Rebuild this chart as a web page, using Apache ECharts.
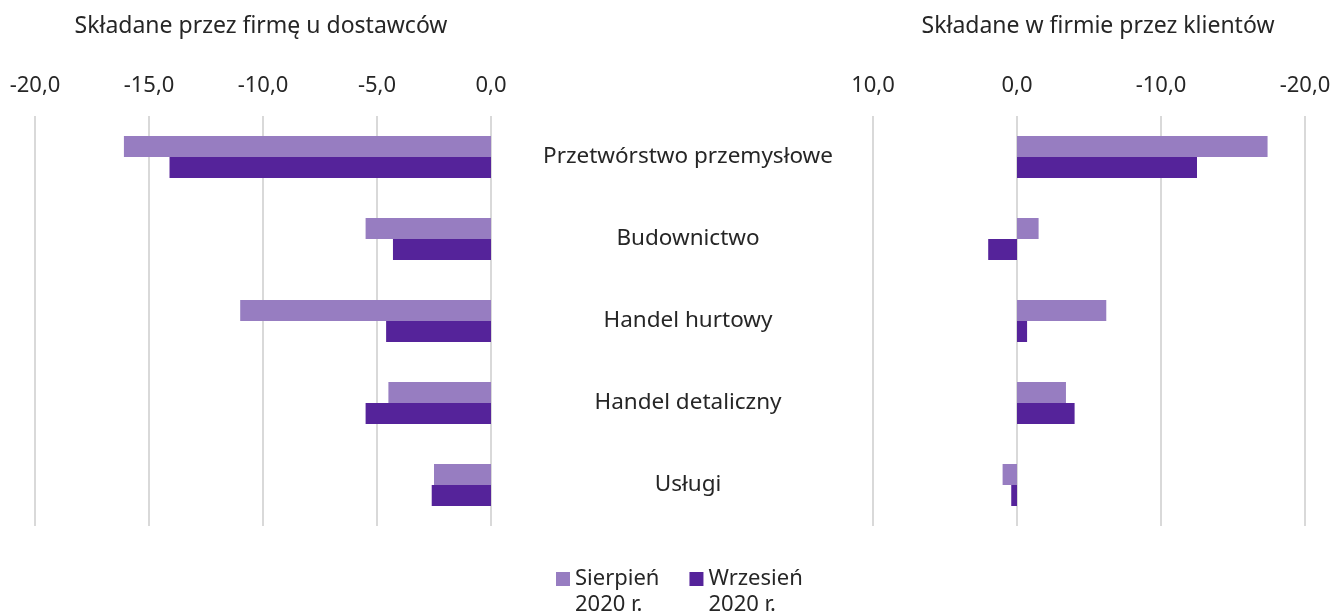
<!DOCTYPE html>
<html>
<head>
<meta charset="utf-8">
<style>
  html, body { margin: 0; padding: 0; background: #fff; }
  #chart { width: 1334px; height: 613px; }
</style>
<script src="https://cdn.jsdelivr.net/npm/echarts@6/dist/echarts.min.js"></script>
</head>
<body>
<div id="chart"></div>
<script>
var categories = ["Przetwórstwo przemysłowe", "Budownictwo", "Handel hurtowy", "Handel detaliczny", "Usługi"];
var seriesNames = ["Sierpień\n2020 r.", "Wrzesień\n2020 r."];
// składane przez firmę u dostawców
var suppliersAug = [-16.1, -5.5, -11.0, -4.5, -2.5];
var suppliersSep = [-14.1, -4.3, -4.6, -5.5, -2.6];
// składane w firmie przez klientów
var clientsAug = [-17.4, -1.5, -6.2, -3.4, 1.0];
var clientsSep = [-12.5, 2.0, -0.7, -4.0, 0.4];
var titles = ["Składane przez firmę u dostawców", "Składane w firmie przez klientów"];

var font = "Noto Sans";
var textColor = "#262626";
var colors = ["#977dc1", "#55239a"];

// legend square sitting next to the first text line (tiny specks keep the 14x52 box)
var legendIcon = "path://M0,0H0.01V0.01H0Z M0,6H14V20H0Z M13.99,51.99H14V52H13.99Z";

var chart = echarts.init(document.getElementById("chart"));

function valueAxis(gridIndex, min, max, interval, inverse) {
  return {
    type: "value",
    gridIndex: gridIndex,
    position: "top",
    min: min,
    max: max,
    interval: interval,
    inverse: inverse,
    axisLine: { show: false },
    axisTick: { show: false },
    splitLine: { show: true, lineStyle: { color: "#d9d9d9", width: 2 } },
    axisLabel: {
      margin: 19,
      fontFamily: font,
      fontSize: 22,
      color: textColor,
      formatter: function (v) { return v.toFixed(1).replace(".", ","); }
    }
  };
}

function barSeries(name, data, idx, colorIdx) {
  return {
    name: name,
    type: "bar",
    xAxisIndex: idx,
    yAxisIndex: idx,
    data: data,
    barWidth: 21,
    barGap: "0%",
    itemStyle: { color: colors[colorIdx] }
  };
}

chart.setOption({
  animation: false,
  title: [
    { text: titles[0], left: 256, top: 10, textAlign: "center",
      textStyle: { fontFamily: font, fontSize: 23, fontWeight: "normal", color: textColor } },
    { text: titles[1], left: 1093, top: 10, textAlign: "center",
      textStyle: { fontFamily: font, fontSize: 23, fontWeight: "normal", color: textColor } }
  ],
  grid: [
    { left: 35, right: 843, top: 116, height: 410 },
    { left: 873, right: 29, top: 116, height: 410 }
  ],
  xAxis: [
    valueAxis(0, -20, 0, 5, false),
    valueAxis(1, -20, 10, 10, true)
  ],
  yAxis: [
    {
      type: "category",
      gridIndex: 0,
      data: categories,
      inverse: true,
      position: "right",
      axisLine: { show: false },
      axisTick: { show: false },
      axisLabel: {
        margin: 197,
        align: "center",
        fontFamily: font,
        fontSize: 22.5,
        color: textColor
      }
    },
    {
      type: "category",
      gridIndex: 1,
      data: categories,
      inverse: true,
      axisLine: { show: false },
      axisTick: { show: false },
      axisLabel: { show: false }
    }
  ],
  legend: {
    top: 561,
    left: 551,
    itemWidth: 14,
    itemHeight: 52,
    itemGap: 30,
    icon: legendIcon,
    data: seriesNames,
    textStyle: { fontFamily: font, fontSize: 22, color: textColor, lineHeight: 26 }
  },
  series: [
    barSeries(seriesNames[0], suppliersAug, 0, 0),
    barSeries(seriesNames[1], suppliersSep, 0, 1),
    barSeries(seriesNames[0], clientsAug, 1, 0),
    barSeries(seriesNames[1], clientsSep, 1, 1)
  ]
});
</script>
</body>
</html>
